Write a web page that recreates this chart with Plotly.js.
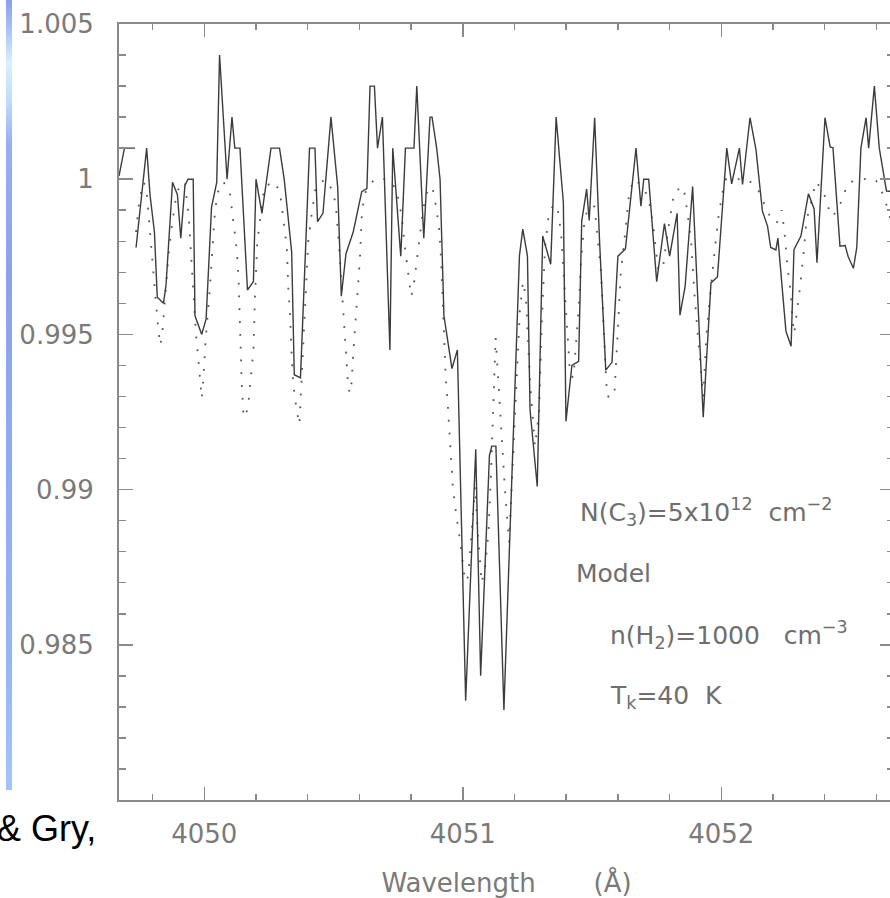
<!DOCTYPE html>
<html>
<head>
<meta charset="utf-8">
<script src="https://cdn.plot.ly/plotly-3.0.1.min.js"></script>
<style>
html,body{margin:0;padding:0;overflow:hidden;background:#fff;width:890px;height:898px;}
#chart{width:900px;height:898px;}
</style>
</head>
<body>
<div id="chart"></div>
<script>
// Observed spectrum (solid line), wavelength in Angstrom and normalised flux
const obsWavelength = [
 4049.670,4049.691,4049.732,4049.734,
 4049.736,4049.777,4049.790,4049.807,4049.818,4049.842,4049.852,4049.877,4049.896,4049.909,
 4049.925,4049.937,4049.957,4049.964,4049.990,4050.007,4050.028,4050.048,4050.059,4050.088,
 4050.107,4050.118,4050.138,4050.167,4050.190,4050.200,4050.223,4050.258,4050.291,4050.309,
 4050.338,4050.348,4050.372,4050.407,4050.428,4050.438,4050.459,4050.490,4050.516,4050.530,
 4050.548,4050.576,4050.609,4050.629,4050.641,4050.658,4050.670,4050.689,4050.718,4050.729,
 4050.760,4050.778,4050.811,4050.822,4050.849,4050.873,4050.881,4050.899,4050.912,4050.927,
 4050.958,4050.979,4051.011,4051.050,4051.069,4051.103,4051.112,4051.128,4051.159,4051.219,
 4051.232,4051.250,4051.260,4051.288,4051.309,4051.340,4051.361,4051.389,4051.399,4051.422,
 4051.448,4051.460,4051.479,4051.489,4051.510,4051.529,4051.553,4051.577,4051.600,4051.629,
 4051.670,4051.689,4051.700,4051.719,4051.750,4051.780,4051.800,4051.829,4051.840,4051.860,
 4051.889,4051.930,4051.960,4051.985,4052.021,4052.040,4052.070,4052.082,4052.111,4052.134,
 4052.159,4052.179,4052.191,4052.211,4052.219,4052.250,4052.270,4052.281,4052.308,4052.337,
 4052.359,4052.370,4052.401,4052.421,4052.432,4052.459,4052.479,4052.491,4052.511,4052.524,
 4052.540,4052.560,4052.570,4052.592,4052.611,4052.639,4052.668
];
const obsFlux = [
 1.0001,1.0010,1.0010,null,
 0.9978,1.0010,0.9995,0.9983,0.9962,0.9960,0.9966,0.9999,0.9995,0.9981,
 0.9998,1.0000,1.0000,0.9956,0.9950,0.9955,0.9991,0.9999,1.0040,1.0000,
 1.0020,1.0010,1.0010,0.99643,0.9967,1.0000,0.9989,1.0010,1.0010,1.0000,
 0.99765,0.9937,0.9936,1.0010,1.0010,0.99863,0.9989,1.0020,0.99975,0.99623,
 0.9976,0.9983,0.9996,0.9997,1.0030,1.0030,1.0010,1.0020,0.9945,1.0010,
 0.99752,1.0010,1.0010,1.0030,0.9981,1.0020,1.0020,1.0010,1.0000,0.9956,
 0.9939,0.9945,0.9832,0.9913,0.9840,0.9911,0.9914,0.9914,0.9829,0.99753,
 0.99839,0.99753,0.99258,0.9901,0.99817,0.99726,1.0020,0.99925,0.9922,0.9940,
 0.99413,0.99865,0.99968,0.99867,1.00198,0.9980,0.99385,0.9941,0.99752,0.99775,
 1.0010,0.99913,1.0000,1.0000,0.9967,0.99857,0.99752,0.9989,0.99562,0.99655,
 0.99976,0.99233,0.99666,0.99685,1.0010,0.99985,1.0010,0.99983,1.00198,1.00095,
 0.99897,0.99848,0.9978,0.99772,0.9981,0.9951,0.99462,0.99773,0.99817,0.99953,
 0.99904,0.99731,1.00198,1.00104,1.00101,0.99784,0.99786,0.9975,0.99713,0.9978,
 1.0010,1.00198,1.0010,1.0030,1.0010,0.99962,0.9996
];

// Model spectrum (dotted line)
const modelWavelength = [
 4049.736,4049.747,4049.763,4049.774,4049.782,4049.794,4049.805,4049.813,4049.822,4049.830,
 4049.838,4049.850,4049.862,4049.876,4049.893,4049.910,4049.925,4049.941,4049.954,4049.967,
 4049.981,4049.990,4049.996,4050.005,4050.022,4050.031,4050.039,4050.050,4050.074,4050.099,
 4050.112,4050.125,4050.132,4050.138,4050.145,4050.152,4050.159,4050.170,4050.181,4050.190,
 4050.196,4050.205,4050.212,4050.232,4050.271,4050.293,4050.306,4050.319,4050.325,4050.332,
 4050.338,4050.344,4050.357,4050.368,4050.374,4050.379,4050.386,4050.392,4050.402,4050.415,
 4050.431,4050.467,4050.495,4050.508,4050.521,4050.538,4050.547,4050.555,4050.562,4050.569,
 4050.579,4050.587,4050.596,4050.602,4050.609,4050.615,4050.626,4050.658,4050.712,4050.744,
 4050.753,4050.764,4050.774,4050.787,4050.800,4050.809,4050.822,4050.834,4050.847,4050.862,
 4050.882,4050.892,4050.899,4050.908,4050.916,4050.922,4050.927,4050.934,4050.942,4050.950,
 4050.961,4050.974,4050.989,4051.009,4051.021,4051.032,4051.047,4051.059,4051.073,4051.086,
 4051.099,4051.108,4051.118,4051.127,4051.137,4051.150,4051.163,4051.179,4051.193,4051.206,
 4051.221,4051.233,4051.244,4051.260,4051.279,4051.295,4051.306,4051.318,4051.333,4051.353,
 4051.368,4051.380,4051.391,4051.403,4051.415,4051.428,4051.438,4051.449,4051.457,4051.470,
 4051.484,4051.509,4051.520,4051.535,4051.546,4051.558,4051.586,4051.595,4051.604,4051.611,
 4051.628,4051.638,4051.644,4051.663,4051.698,4051.720,4051.737,4051.756,4051.773,4051.793,
 4051.808,4051.818,4051.853,4051.862,4051.883,4051.896,4051.909,4051.930,4051.941,4051.950,
 4051.960,4051.976,4051.988,4052.005,4052.018,4052.098,4052.137,4052.161,4052.188,4052.214,
 4052.234,4052.246,4052.255,4052.268,4052.275,4052.282,4052.292,4052.304,4052.320,4052.330,
 4052.343,4052.366,4052.395,4052.410,4052.427,4052.453,4052.472,4052.494,4052.548,4052.595,
 4052.614,4052.631,4052.646,4052.657,4052.668
];
const modelFlux = [
 0.9983,0.9992,0.9999,0.9998,0.9991,0.9978,0.9969,0.9960,0.99515,0.99465,
 0.9951,0.9964,0.9976,0.9986,0.99955,0.99987,0.9999,0.99863,0.9969,0.9951,
 0.9938,0.99294,0.9935,0.9948,0.99654,0.99785,0.99874,0.99955,0.99992,0.99955,
 0.99869,0.99777,0.99691,0.99514,0.99337,0.99234,0.99235,0.99272,0.99358,0.9945,
 0.99622,0.9980,0.99842,0.99976,0.99992,0.99957,0.99869,0.99783,0.99648,0.99562,
 0.99428,0.99342,0.99256,0.9921,0.99315,0.99401,0.99535,0.9967,0.9980,0.99885,
 0.99976,1.0000,0.99966,0.9992,0.99788,0.9957,0.99439,0.99351,0.9931,0.9934,
 0.9947,0.9957,0.9966,0.99745,0.9988,0.99923,0.99965,1.0000,1.0000,0.99966,
 0.99923,0.9988,0.99794,0.99708,0.99622,0.9965,0.9974,0.99826,0.99906,0.9996,
 0.99976,0.99933,0.9989,0.99847,0.9974,0.9963,0.99495,0.99361,0.99272,0.99143,
 0.99011,0.98923,0.98837,0.98704,0.9872,0.9884,0.9901,0.9885,0.9870,0.9875,
 0.9886,0.9903,0.9930,0.9949,0.99355,0.9918,0.9900,0.9883,0.9907,0.9932,
 0.9958,0.9967,0.9962,0.9935,0.9914,0.9925,0.9955,0.9978,0.9989,0.9992,
 0.9990,0.99828,0.9968,0.9950,0.9937,0.9936,0.99466,0.99595,0.99729,0.9986,
 0.9991,0.99912,0.99824,0.99697,0.9950,0.9930,0.9930,0.99433,0.99566,0.99697,
 0.99828,0.99917,0.9996,1.0000,0.99976,0.99933,0.99847,0.99708,0.99708,0.99831,
 0.99917,0.9996,0.99976,0.99933,0.99804,0.9963,0.99498,0.9930,0.99482,0.99568,
 0.99654,0.99783,0.99874,0.9996,1.0000,1.0000,0.99976,0.9993,0.9988,0.99858,
 0.9990,0.99815,0.99724,0.99638,0.99548,0.99503,0.99562,0.99648,0.99777,0.99869,
 0.99912,0.99992,0.9996,0.99917,0.9988,0.99901,0.9995,0.9999,1.0000,1.0000,
 0.99976,0.99933,0.99903,0.9985,0.9981
];

// Axis ticks and labels
const xTickVals = [4050, 4051, 4052];
const xTickText = ['4050', '4051', '4052'];
const yTickVals = [0.985, 0.99, 0.995, 1, 1.005];
const yTickText = ['0.985', '0.99', '0.995', '1', '1.005'];

// Annotation texts
const labelColumn = 'N(C<sub>3</sub>)=5x10<sup>12</sup>\u00a0\u00a0cm<sup>\u22122</sup>';
const labelModel = 'Model';
const labelDensity = 'n(H<sub>2</sub>)=1000\u00a0\u00a0\u00a0cm<sup>\u22123</sup>';
const labelTemp = 'T<sub>k</sub>=40\u00a0\u00a0K';
const slideText = '&amp; Gry,';

const frameColor = '#8a8a8a';
const textColor = '#7a7a7a';

const barSvg = '<svg xmlns="http://www.w3.org/2000/svg" width="6" height="790" preserveAspectRatio="none">' +
  '<defs><linearGradient id="g" x1="0" y1="0" x2="0" y2="1">' +
  '<stop offset="0" stop-color="#8aa0e8"/>' +
  '<stop offset="0.03" stop-color="#a2baf4"/>' +
  '<stop offset="0.08" stop-color="#d8f0ff"/>' +
  '<stop offset="0.13" stop-color="#bcdcfa"/>' +
  '<stop offset="0.18" stop-color="#96b0f2"/>' +
  '<stop offset="0.35" stop-color="#8aa2ec"/>' +
  '<stop offset="0.6" stop-color="#90acf0"/>' +
  '<stop offset="0.85" stop-color="#98b6f6"/>' +
  '<stop offset="1" stop-color="#a4c2fa"/>' +
  '</linearGradient></defs><rect width="6" height="790" fill="url(#g)"/></svg>';

const traces = [
  {
    x: modelWavelength, y: modelFlux, type: 'scatter', mode: 'lines',
    line: {color: '#555555', width: 1.8, dash: '1.8px,11px'},
    hoverinfo: 'skip'
  },
  {
    x: obsWavelength, y: obsFlux, type: 'scatter', mode: 'lines',
    connectgaps: false,
    line: {color: '#3c3c3c', width: 1.4},
    hoverinfo: 'skip'
  }
];

const W = 900, H = 898, ML = 119, MR = 6, MT = 24, MB = 98;
const PW = W - ML - MR, PH = H - MT - MB;
function px(xp){ return (xp - ML) / PW; }
function py(yp){ return (H - MB - yp) / PH; }

const annFont = {family: 'DejaVu Sans', size: 25, color: '#6e6e6e'};

const layout = {
  width: W, height: H,
  margin: {l: ML, r: MR, t: MT, b: MB, pad: 0},
  paper_bgcolor: '#ffffff', plot_bgcolor: '#ffffff',
  showlegend: false,
  xaxis: {
    range: [4049.670, 4052.668],
    showgrid: false, zeroline: false,
    showline: true, linecolor: frameColor, linewidth: 2, mirror: 'ticks',
    ticks: 'inside', ticklen: 13, tickwidth: 1.5, tickcolor: frameColor,
    tickmode: 'array', tickvals: xTickVals, ticktext: xTickText,
    ticklabelstandoff: 10,
    tickfont: {family: 'DejaVu Sans', size: 26, color: textColor},
    minor: {tickmode: 'linear', tick0: 4050, dtick: 0.2, ticks: 'inside', ticklen: 6, tickwidth: 1.5, tickcolor: frameColor, showgrid: false},
    title: {text: 'Wavelength\u00a0\u00a0\u00a0\u00a0\u00a0\u00a0\u00a0(\u00c5)', font: {family: 'DejaVu Sans', size: 26, color: textColor}, standoff: 32}
  },
  yaxis: {
    range: [0.98, 1.005],
    showgrid: false, zeroline: false,
    showline: true, linecolor: frameColor, linewidth: 2, mirror: 'ticks',
    ticks: 'inside', ticklen: 14, tickwidth: 1.5, tickcolor: frameColor,
    tickmode: 'array', tickvals: yTickVals, ticktext: yTickText,
    ticklabelstandoff: 18,
    tickfont: {family: 'DejaVu Sans', size: 26, color: textColor},
    minor: {tickmode: 'linear', tick0: 0.98, dtick: 0.001, ticks: 'inside', ticklen: 7, tickwidth: 1.5, tickcolor: frameColor, showgrid: false}
  },
  annotations: [
    {xref: 'paper', yref: 'paper', x: px(578), y: py(512), xanchor: 'left', yanchor: 'middle', text: labelColumn, showarrow: false, font: annFont},
    {xref: 'paper', yref: 'paper', x: px(574), y: py(574), xanchor: 'left', yanchor: 'middle', text: labelModel, showarrow: false, font: annFont},
    {xref: 'paper', yref: 'paper', x: px(608), y: py(635), xanchor: 'left', yanchor: 'middle', text: labelDensity, showarrow: false, font: annFont},
    {xref: 'paper', yref: 'paper', x: px(608), y: py(697), xanchor: 'left', yanchor: 'middle', text: labelTemp, showarrow: false, font: annFont},
    {xref: 'paper', yref: 'paper', x: px(-5), y: py(828), xanchor: 'left', yanchor: 'middle', text: slideText, showarrow: false, font: {family: 'Liberation Sans', size: 36, color: '#000000'}}
  ],
  images: [
    {source: 'data:image/svg+xml;charset=utf-8,' + encodeURIComponent(barSvg),
     xref: 'paper', yref: 'paper', x: px(6), y: py(0), sizex: 6 / PW, sizey: 790 / PH,
     xanchor: 'left', yanchor: 'top', sizing: 'stretch', layer: 'above'}
  ]
};

Plotly.newPlot('chart', traces, layout, {staticPlot: true, displayModeBar: false});
</script>
</body>
</html>
